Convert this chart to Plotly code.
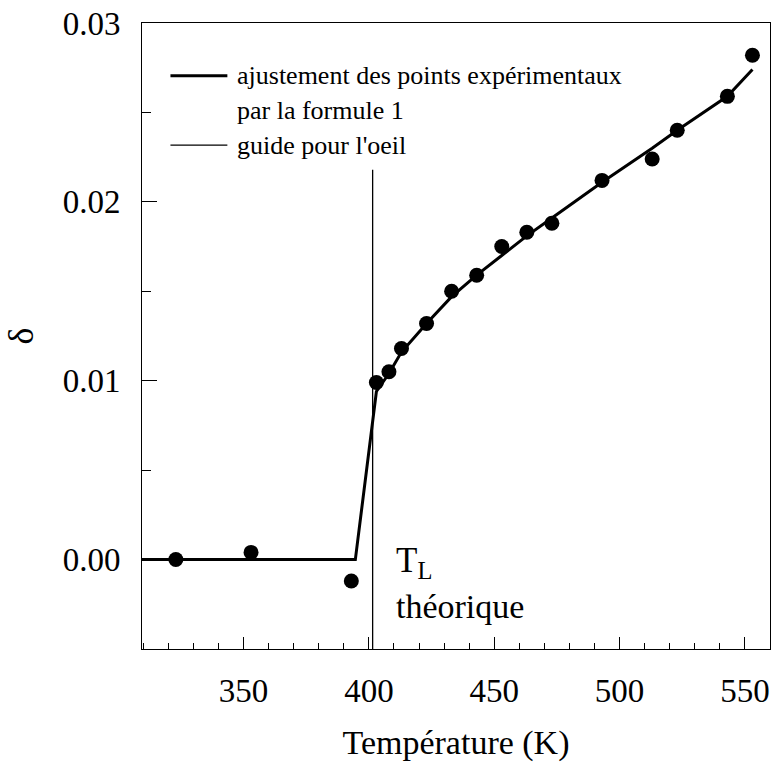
import plotly.graph_objects as go

# Measured points: temperature (K) and delta
T_exp = [323, 353, 393, 403, 408, 413, 423, 433, 443, 453, 463, 473, 493, 513, 523, 543, 553]
delta_exp = [0.0000, 0.0004, -0.0012, 0.0099, 0.0105, 0.0118, 0.0132, 0.0150, 0.0159,
             0.0175, 0.0183, 0.0188, 0.0212, 0.0224, 0.0240, 0.0259, 0.0282]

# Fitted curve (formula 1)
T_fit = [309.5, 394.6, 403, 408, 413, 423, 433, 443, 453, 463, 473, 493, 513, 523, 543, 553]
delta_fit = [0.0, 0.0, 0.0094, 0.0104, 0.0116, 0.0132, 0.0147, 0.0159, 0.0170, 0.0181,
             0.0191, 0.0211, 0.0230, 0.0240, 0.0259, 0.0274]

# Guide for the eye: theoretical T_L
T_guide = [401.5, 401.5]
delta_guide = [-0.005, 0.0218]

x_ticks = [350, 400, 450, 500, 550]
y_ticks = [0.00, 0.01, 0.02, 0.03]

FONT = "Liberation Serif"
W, H = 777, 768
ML, MR, MT, MB = 142, 6, 19, 119
PW, PH = W - ML - MR, H - MT - MB


def px(x):
    return (x - ML) / PW


def py(y):
    return (H - MB - y) / PH


fig = go.Figure()

fig.add_trace(go.Scatter(x=T_guide, y=delta_guide, mode="lines",
                         line=dict(color="black", width=1.3), showlegend=False))
fig.add_trace(go.Scatter(x=T_fit, y=delta_fit, mode="lines",
                         line=dict(color="black", width=3), showlegend=False))
fig.add_trace(go.Scatter(x=T_exp, y=delta_exp, mode="markers",
                         marker=dict(color="black", size=15), showlegend=False))

# Legend drawn as line samples and text
legend_rows = [
    (72, "ajustement des points expérimentaux", 3),
    (107, "par la formule 1", None),
    (142, "guide pour l'oeil", 1.3),
]
for ypix, label, lw in legend_rows:
    if lw is not None:
        fig.add_shape(type="line", xref="paper", yref="paper",
                      x0=px(170.5), x1=px(227.5), y0=py(ypix), y1=py(ypix),
                      line=dict(color="black", width=lw))
    fig.add_annotation(xref="paper", yref="paper", x=px(235), y=py(ypix),
                       text=label, showarrow=False, xanchor="left", yanchor="middle",
                       font=dict(family=FONT, size=26, color="black"))

fig.add_annotation(xref="paper", yref="paper", x=px(394), y=py(562),
                   text="T<sub>L</sub>", showarrow=False, xanchor="left", yanchor="middle",
                   font=dict(family=FONT, size=35, color="black"))
fig.add_annotation(xref="paper", yref="paper", x=px(394), y=py(606),
                   text="théorique", showarrow=False, xanchor="left", yanchor="middle",
                   font=dict(family=FONT, size=34, color="black"))

axis_common = dict(
    showgrid=False, zeroline=False, showline=True, linecolor="black", linewidth=1,
    mirror=True, ticks="inside", tickcolor="black", tickwidth=1,
    tickfont=dict(family=FONT, size=33, color="black"),
)

fig.update_xaxes(
    range=[309.5, 560], tickvals=x_ticks, ticklen=12,
    minor=dict(dtick=10, ticks="inside", ticklen=6, tickcolor="black", tickwidth=1),
    title=dict(text="Température (K)", font=dict(family=FONT, size=34, color="black"),
               standoff=22),
    ticklabelstandoff=12,
    **axis_common,
)
fig.update_yaxes(
    range=[-0.005, 0.03], tickvals=y_ticks, tickformat=".2f", ticklen=15,
    minor=dict(dtick=0.005, ticks="inside", ticklen=9, tickcolor="black", tickwidth=1),
    title=dict(text="δ", font=dict(family=FONT, size=36, color="black"), standoff=18),
    ticklabelstandoff=14,
    **axis_common,
)

fig.update_layout(
    width=W, height=H,
    margin=dict(l=ML, r=MR, t=MT, b=MB),
    plot_bgcolor="white", paper_bgcolor="white",
    showlegend=False,
)

fig.write_html("out.html")
